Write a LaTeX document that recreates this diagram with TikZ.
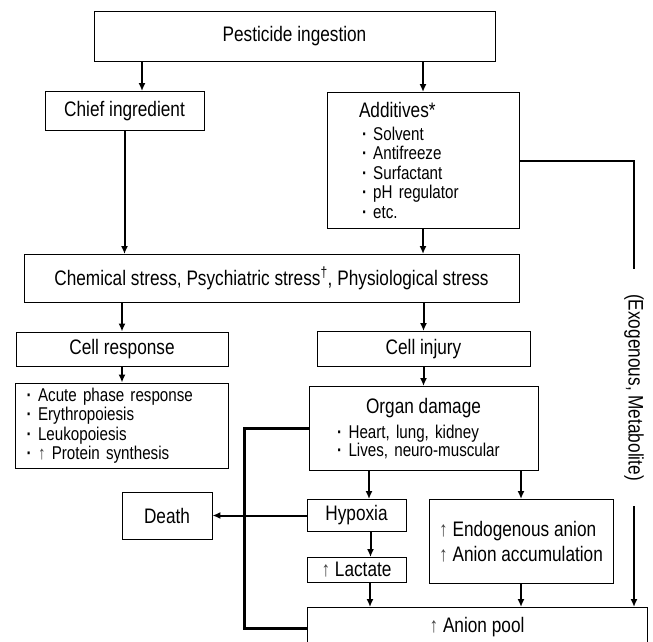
\documentclass[tikz,border=0pt]{standalone}
\usepackage{fontspec}
\setmainfont{Liberation Sans}[FakeStretch=0.82]
\usetikzlibrary{arrows.meta, positioning}

\newcommand\mainf{\fontsize{21}{25}\selectfont\spaceskip=.23em\relax}
\newcommand\smallf{\fontsize{18.5}{19.5}\selectfont\spaceskip=.21em\relax}
\newcommand\up{{\color{black!75}↑}}
\newcommand\itm{\textbf{·}}

\begin{document}
\begin{tikzpicture}[x=1pt, y=1pt, node distance=75pt, >={Latex[length=8pt,width=7pt]},
		box/.style={rectangle, draw, line width=0.95pt, inner sep=2pt, font=\mainf, align=center},
		link/.style={line width=2pt, ->}]
		\useasboundingbox (0,0) rectangle (653,-642);
		\clip (0,0) rectangle (653,-642);

		\node[box, minimum width=401pt, minimum height=50pt] (ingest) at (294.5,-36) {Pesticide ingestion};
		\node[box, below of=ingest, xshift=-170pt, minimum width=159pt, minimum height=39pt] (chief) {Chief ingredient};
		\node[box, right of=chief, xshift=223.5pt, yshift=-49.5pt, minimum width=192pt, minimum height=136pt, text width=128pt, inner xsep=32pt, align=left, font=\smallf] (add) {{\mainf Additives*}\\[3.3pt]
			\hspace*{3pt}\itm\ Solvent\\ \hspace*{3pt}\itm\ Antifreeze\\ \hspace*{3pt}\itm\ Surfactant\\ \hspace*{3pt}\itm\ pH regulator\\ \hspace*{3pt}\itm\ etc.};

		\node[box, below of=chief, xshift=147pt, yshift=-92.5pt, minimum width=495pt, minimum height=48pt] (chem) {Chemical stress, Psychiatric stress\textsuperscript{†}, Physiological stress};

		\node[box, below of=chem, xshift=-149.5pt, yshift=4.5pt, minimum width=212pt, minimum height=34pt] (cellresp) {Cell response};
		\node[box, right of=cellresp, xshift=226.5pt, minimum width=213pt, minimum height=35pt] (cellinj) {Cell injury};

		\node[box, below of=cellresp, yshift=-1.5pt, minimum width=213pt, minimum height=85pt, text width=191pt, inner xsep=11pt, align=left, font=\smallf] (resplist) {\itm\hspace{6.5pt}Acute phase response\\ \itm\hspace{6.5pt}Erythropoiesis\\ \itm\hspace{6.5pt}Leukopoiesis\\ \itm\hspace{6.5pt}\up\ Protein synthesis};

		\node[box, below of=cellinj, yshift=-4.5pt, minimum width=229pt, minimum height=84pt, text width=173pt, inner xsep=28pt, align=left, font=\smallf] (organ) {\makebox[\linewidth]{\mainf Organ damage}\\[6pt]
			\itm\hspace{6.5pt}Heart, lung, kidney\\[-2pt] \itm\hspace{6.5pt}Lives, neuro-muscular};

		\node[box, below of=organ, xshift=-67pt, yshift=-12pt, minimum width=99pt, minimum height=32pt] (hypoxia) {Hypoxia};
		\node[box, left of=hypoxia, xshift=-114.5pt, minimum width=90pt, minimum height=47pt] (death) {Death};
		\node[box, below of=hypoxia, yshift=20.5pt, minimum width=99pt, minimum height=25pt] (lactate) {\up\ Lactate};
		\node[box, right of=hypoxia, xshift=89.5pt, yshift=-26pt, minimum width=184pt, minimum height=84pt, align=left] (endo) {\up\ Endogenous anion\\ \up\ Anion accumulation};
		\node[box, below of=lactate, xshift=120.5pt, yshift=17.5pt, minimum width=340pt, minimum height=40pt] (pool) {\up\ Anion pool};

		\node[right of=cellinj, xshift=135.5pt, yshift=-38.5pt, rotate=-90, inner xsep=25pt, inner ysep=2pt, font=\mainf] (exo) {(Exogenous, Metabolite)};

		\draw[link] ([xshift=-152.5pt]ingest.south) -- ([xshift=17.5pt]chief.north);
		\draw[link] (add.north |- ingest.south) -- (add.north);
		\draw[link] (chief.south) -- (chief.south |- chem.north);
		\draw[link] (add.south) -- (add.south |- chem.north);
		\draw[link] (cellresp.north |- chem.south) -- (cellresp.north);
		\draw[link] (cellinj.north |- chem.south) -- (cellinj.north);
		\draw[link] (cellresp.south) -- (resplist.north);
		\draw[link] (cellinj.south) -- (organ.north);
		\draw[link] ([xshift=-54.5pt]organ.south) -- ([xshift=12.5pt]hypoxia.north);
		\draw[link] (endo.north |- organ.south) -- (endo.north);

		\draw[line width=3.3pt] (organ.west) -- ++(-64,0) |- ([yshift=-1pt]pool.west);
		\draw[link] (hypoxia.west) -- (death.east);

		\draw[link] ([xshift=14pt]hypoxia.south) -- ([xshift=14pt]lactate.north);
		\draw[link] ([xshift=13.5pt]lactate.south) -- ([xshift=-107pt]pool.north);
		\draw[link] (endo.south) -- (endo.south |- pool.north);

		\draw[line width=2pt] (add.east) -| (exo.west);
		\draw[link] (exo.east) -- (exo.east |- pool.north);

	\end{tikzpicture}
\end{document}
